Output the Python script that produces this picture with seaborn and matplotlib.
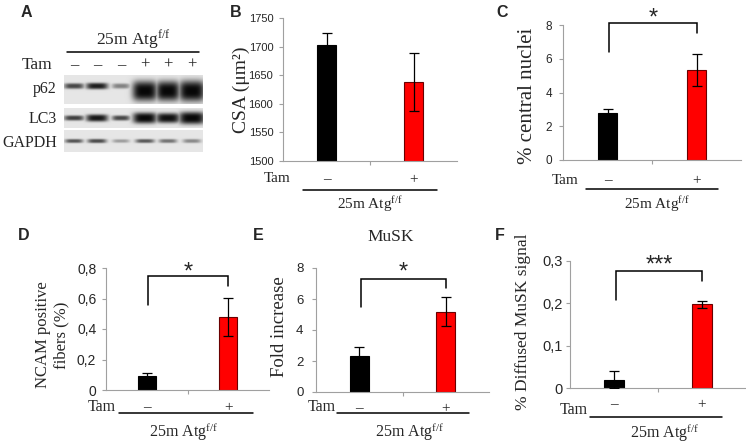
import numpy as np
import pandas as pd
import matplotlib
matplotlib.use("Agg")
import matplotlib.pyplot as plt
import seaborn as sns

# ---------------- data ----------------
tam = ["–", "+"]                      # tamoxifen treatment categories
group_label = r"25m Atg$^{\mathrm{f/f}}$"

csa_mean = [1703, 1638]
csa_err = [20, 50]
csa_ticks = [1500, 1550, 1600, 1650, 1700, 1750]
csa_ticklabels = ["1500", "1550", "1600", "1650", "1700", "1750"]

central_mean = [2.77, 5.33]
central_err = [0.25, 0.93]
central_ticks = [0, 2, 4, 6, 8]
central_ticklabels = ["0", "2", "4", "6", "8"]

ncam_mean = [0.095, 0.48]
ncam_err = [0.018, 0.125]
ncam_ticks = [0, 0.2, 0.4, 0.6, 0.8]
ncam_ticklabels = ["0", "0,2", "0,4", "0,6", "0,8"]

musk_mean = [2.34, 5.18]
musk_err = [0.54, 0.93]
musk_ticks = [0, 2, 4, 6, 8]
musk_ticklabels = ["0", "2", "4", "6", "8"]

diffused_mean = [0.019, 0.198]
diffused_err = [0.02, 0.008]
diffused_ticks = [0, 0.1, 0.2, 0.3]
diffused_ticklabels = ["0", "0,1", "0,2", "0,3"]

blot_rows = ["p62", "LC3", "GAPDH"]
blot_tam = ["–", "–", "–", "+", "+", "+"]
p62_band = [0.72, 0.90, 0.45, 1.0, 1.0, 1.0]
lc3_band = [0.75, 0.93, 0.72, 1.0, 0.96, 1.0]
gapdh_band = [0.66, 0.70, 0.33, 0.64, 0.52, 0.42]

# ---------------- style ----------------
sns.set_style("white")
plt.rcParams["font.family"] = ["Liberation Sans", "DejaVu Sans"]
plt.rcParams["mathtext.fontset"] = "custom"
plt.rcParams["mathtext.rm"] = "Liberation Serif"
plt.rcParams["mathtext.it"] = "Liberation Serif:italic"
SERIF = ["Liberation Serif", "DejaVu Serif"]
BLACK = "#000000"
RED = "#ff0000"
GRAY = "#a0a0a0"

W, H = 746, 443
fig = plt.figure(figsize=(W / 100, H / 100), dpi=100)


def px_rect(l, t, r, b):
    return [l / W, 1 - b / H, (r - l) / W, (b - t) / H]


# overlay axes in pixel coordinates (for blot, letters, group annotations)
ov = fig.add_axes([0, 0, 1, 1])
ov.set_axis_off()


def blot_strip(intens, x0, x1, y0, y1, lane_x, yc, half_h, half_w, bg=0.90):
    xs = np.linspace(x0, x1, int((x1 - x0) * 4))
    ys = np.linspace(y0, y1, int((y1 - y0) * 4))
    X, Y = np.meshgrid(xs, ys)
    dark = np.zeros_like(X)
    for v, xc, yy, hh, hw in zip(intens, lane_x, yc, half_h, half_w):
        prof = np.exp(-np.abs((X - xc) / hw) ** 4) * np.exp(-np.abs((Y - yy) / hh) ** 3)
        dark = np.maximum(dark, v * prof)
    img = bg - (bg - 0.03) * dark
    ov.imshow(img, cmap="gray", vmin=0, vmax=1, extent=(x0, x1, y1, y0),
              interpolation="bilinear", aspect="auto")


lane_x = [74, 97, 121, 145, 168, 192]
bx0, bx1 = 64, 203
blot_strip(p62_band, bx0, bx1, 75, 104, lane_x, [86, 86, 86, 91, 91, 91],
           [2.8, 3.2, 2.6, 10, 10, 10.5], [10, 11, 9, 12.5, 12, 13])
blot_strip(lc3_band, bx0, bx1, 108, 128, lane_x, [118, 118, 118, 118, 118, 118],
           [2.6, 3.6, 2.6, 5.5, 5.0, 6.2], [10, 11, 9, 12, 12, 13])
blot_strip(gapdh_band, bx0, bx1, 130, 152, lane_x, [141] * 6,
           [2.0, 2.1, 1.8, 2.0, 2.0, 2.0], [9, 9.5, 8.5, 9.5, 9, 9])
for name, yy in zip(blot_rows, [89, 119, 143]):
    ov.text(57, yy, name, ha="right", va="center", fontsize=11.5, family=SERIF)
ov.text(37, 65, "Tam", ha="center", va="center", fontsize=12.5, family=SERIF)
for s, xx in zip(blot_tam, lane_x):
    ov.text(xx, 65, s, ha="center", va="center", fontsize=12, family=SERIF)
ov.plot([67, 199], [52, 52], color="black", lw=1.1)
ov.text(133, 40, group_label, ha="center", va="center", fontsize=12.5, family=SERIF)

# panel letters
for letter, (xx, yy) in zip("ABCDEF", [(26, 12), (236, 12), (502, 12), (24, 235), (258, 235), (500, 235)]):
    ov.text(xx, yy, letter, ha="center", va="center", fontsize=11.5, fontweight="bold")


def bar_panel(rect, means, errs, ticks, ticklabels, ylim, tick_fs, tick_pad,
              ylabel, ylabel_xy, ylabel_fs, sign_pad):
    ax = fig.add_axes(px_rect(*rect))
    ax.set_facecolor("none")
    df = pd.DataFrame({"Tam": tam, "value": means})
    sns.barplot(data=df, x="Tam", y="value", hue="Tam", palette=[BLACK, RED],
                width=0.22, saturation=1, legend=False, ax=ax, linewidth=0.8)
    for p, ec in zip(ax.patches, ["#000000", "#6a0000"]):
        p.set_edgecolor(ec)
    ax.errorbar(x=[0, 1], y=means, yerr=errs, fmt="none", ecolor="black",
                elinewidth=0.9, capsize=3.4, capthick=0.9, zorder=4)
    ax.set_xlim(-0.5, 1.5)
    ax.set_ylim(*ylim)
    ax.set_xticks([0, 1], labels=tam)
    ax.set_xticks([0.5], minor=True)
    ax.tick_params(axis="x", which="major", length=0, pad=sign_pad, labelsize=11)
    for t in ax.get_xticklabels():
        t.set_fontfamily(SERIF)
    ax.tick_params(axis="x", which="minor", length=3, width=0.8, color=GRAY, direction="out", bottom=True)
    ax.set_yticks(ticks, labels=ticklabels)
    ax.tick_params(axis="y", length=3, width=0.8, color=GRAY, direction="out",
                   labelsize=tick_fs, pad=tick_pad, left=True)
    for side in ["top", "right"]:
        ax.spines[side].set_visible(False)
    for side in ["left", "bottom"]:
        ax.spines[side].set_color(GRAY)
        ax.spines[side].set_linewidth(0.8)
    ax.set_xlabel("")
    ax.set_ylabel(ylabel, fontsize=ylabel_fs, family=SERIF, linespacing=1.25)
    ax.yaxis.label.set_va("center")
    l, t, r, b = rect
    ax.yaxis.set_label_coords((ylabel_xy[0] - l) / (r - l), (b - ylabel_xy[1]) / (b - t))
    return ax


def bracket(ax, y_top, y_left, y_right, star_y, stars, fs):
    ax.plot([0.02, 0.02, 1.0, 1.0], [y_left, y_top, y_top, y_right],
            color="black", lw=1.1, clip_on=False, solid_joinstyle="miter")
    ax.text(0.51, star_y, stars, ha="center", va="center", fontsize=fs)


def group_annot(tam_xy, line_x, line_y, label_xy, fs=11):
    ov.text(tam_xy[0], tam_xy[1], "Tam", ha="center", va="center", fontsize=fs, family=SERIF)
    ov.plot(line_x, [line_y, line_y], color="black", lw=1.1)
    ov.text(label_xy[0], label_xy[1], group_label, ha="center", va="center", fontsize=fs, family=SERIF)


# B
axB = bar_panel((283, 18, 457, 161), csa_mean, csa_err, csa_ticks, csa_ticklabels,
                (1500, 1750), 8, 4, "CSA (μm²)", (241, 90), 14, 9)
group_annot((277, 178), [303, 437], 190, (370, 204))

# C
axC = bar_panel((563, 25, 741, 160), central_mean, central_err, central_ticks, central_ticklabels,
                (0, 8), 8.5, 5, "% central nuclei", (528, 96), 15, 10)
bracket(axC, 8.12, 6.4, 7.53, 8.39, "*", 17)
group_annot((565, 180), [586, 718], 189, (657, 204))

# D
axD = bar_panel((106, 268, 269, 390), ncam_mean, ncam_err, ncam_ticks, ncam_ticklabels,
                (0, 0.8), 10, 4, "NCAM positive\nfibers (%)", (52, 335), 12, 8)
bracket(axD, 0.748, 0.557, 0.682, 0.77, "*", 17)
group_annot((102, 407), [119, 253], 413, (184, 432), 11.5)

# E
axE = bar_panel((316, 268, 489, 392), musk_mean, musk_err, musk_ticks, musk_ticklabels,
                (0, 8), 9.5, 6, "Fold increase", (280, 327), 13.5, 7)
bracket(axE, 7.29, 5.48, 6.71, 7.71, "*", 17)
axE.set_title("MuSK", fontsize=12.5, family=SERIF, y=1.25, va="center", pad=0)
axE.title.set_x(0.43)
group_annot((322, 407), [337, 469], 413, (410, 432), 11.5)

# F
axF = bar_panel((570, 261, 746, 388), diffused_mean, diffused_err, diffused_ticks, diffused_ticklabels,
                (0, 0.3), 10.5, 2, "% Diffused MuSK signal", (523, 322), 12.5, 7)
bracket(axF, 0.276, 0.208, 0.253, 0.29, "***", 17)
group_annot((574, 410), [590, 722], 417, (665, 433), 11.5)

ov.set_xlim(0, W)
ov.set_ylim(H, 0)

fig.savefig("out.png", dpi=100)
